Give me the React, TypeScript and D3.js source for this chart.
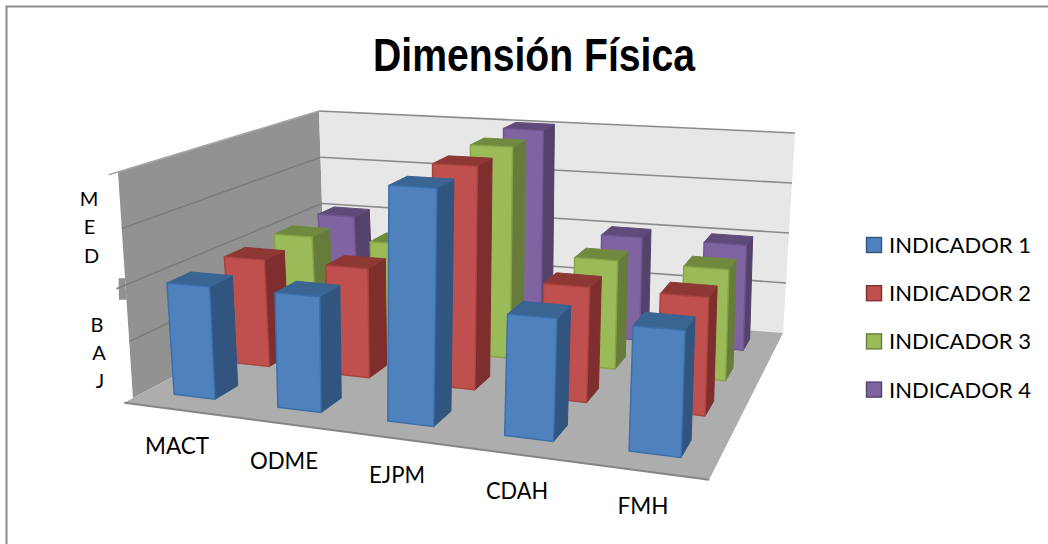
import React from "react";
import * as d3 from "d3";

const categories = ["MACT", "ODME", "EJPM", "CDAH", "FMH"];
const seriesNames = ["INDICADOR 1", "INDICADOR 2", "INDICADOR 3", "INDICADOR 4"];
const indicador1 = [2, 2, 4, 2, 2];
const indicador2 = [2, 2, 4, 2, 2];
const indicador3 = [2, 2, 4, 2, 2];
const indicador4 = [2, 2, 4, 2, 2];
const seriesValues = [indicador1, indicador2, indicador3, indicador4];
const valueLevels = [0, 1, 2, 3, 4];

const faceColors = [
  { front: "#4f81bd", side: "#31557f", top: "#3a6491", line: "#3b70ab" },
  { front: "#c0504d", side: "#7e2f2d", top: "#8e3836", line: "#a84441" },
  { front: "#9bbb59", side: "#677c3a", top: "#71893f", line: "#86a548" },
  { front: "#8064a2", side: "#54426b", top: "#5f4b79", line: "#6f5690" },
];

const WIDTH = 1048;
const HEIGHT = 544;

type Pt = [number, number];

// Homography taking the unit square onto a quad (u along the front edge, v going back).
function quadMap(p00: Pt, p10: Pt, p11: Pt, p01: Pt) {
  const dx1 = p10[0] - p11[0];
  const dx2 = p01[0] - p11[0];
  const sx = p00[0] - p10[0] + p11[0] - p01[0];
  const dy1 = p10[1] - p11[1];
  const dy2 = p01[1] - p11[1];
  const sy = p00[1] - p10[1] + p11[1] - p01[1];
  const det = dx1 * dy2 - dx2 * dy1;
  const g = (sx * dy2 - dx2 * sy) / det;
  const h = (dx1 * sy - sx * dy1) / det;
  const a = p10[0] - p00[0] + g * p10[0];
  const b = p01[0] - p00[0] + h * p01[0];
  const d = p10[1] - p00[1] + g * p10[1];
  const e = p01[1] - p00[1] + h * p01[1];
  return (u: number, v: number): Pt => {
    const w = g * u + h * v + 1;
    return [(a * u + b * v + p00[0]) / w, (d * u + e * v + p00[1]) / w];
  };
}

const valueScale = d3.scaleLinear().domain([0, 4]).range([0, 1]);

// Chart space to the screen: a point on the floor lifted toward the ceiling plane.
function projector(floor: (u: number, v: number) => Pt, ceiling: (u: number, v: number) => Pt) {
  return (u: number, v: number, value: number): Pt => {
    const a = floor(u, v);
    const b = ceiling(u, v);
    const t = valueScale(value);
    return [a[0] + (b[0] - a[0]) * t, a[1] + (b[1] - a[1]) * t];
  };
}

// The room shell and the bar volume use slightly different frames.
const room = projector(
  quadMap([133, 398], [712.5, 473], [783, 333], [325, 296]),
  quadMap([118, 172], [724, 222], [795, 133], [319, 111])
);
const volume = projector(
  quadMap([125, 401], [714, 476.5], [785, 334], [326, 292]),
  quadMap([107, 176], [722, 214], [791, 131], [314, 108])
);

const categoryBand = d3
  .scaleBand<string>()
  .domain(categories)
  .range([0, 1])
  .paddingInner(0.6)
  .paddingOuter(0.3);
const seriesBand = d3
  .scaleBand<string>()
  .domain(seriesNames)
  .range([0, 1])
  .paddingInner(0.6)
  .paddingOuter(0.3);

const poly = (pts: Pt[]) => d3.line()(pts)! + "Z";

function Bar({ cat, ser, value, c }: { cat: string; ser: string; value: number; c: (typeof faceColors)[number] }) {
  const u0 = categoryBand(cat)!;
  const u1 = u0 + categoryBand.bandwidth();
  const v0 = seriesBand(ser)!;
  const v1 = v0 + seriesBand.bandwidth();
  const front = [volume(u0, v0, 0), volume(u1, v0, 0), volume(u1, v0, value), volume(u0, v0, value)];
  const side = [volume(u1, v0, 0), volume(u1, v1, 0), volume(u1, v1, value), volume(u1, v0, value)];
  const top = [volume(u0, v0, value), volume(u1, v0, value), volume(u1, v1, value), volume(u0, v1, value)];
  return (
    <g strokeLinejoin="round">
      <path d={poly(side)} fill={c.side} stroke={c.side} strokeWidth={1} />
      <path d={poly(top)} fill={c.top} stroke={c.top} strokeWidth={1} />
      <path d={poly(front)} fill={c.front} stroke={c.line} strokeWidth={1.5} />
    </g>
  );
}

const labelFont = "Lato, 'Open Sans', sans-serif";
const categoryLabels = [
  { x: 177, y: 454, w: 64 },
  { x: 284, y: 469, w: 68 },
  { x: 397, y: 483, w: 56 },
  { x: 517, y: 499, w: 62 },
  { x: 643, y: 514, w: 51 },
];
const axisLetters = [
  { t: "M", x: 89, y: 206 },
  { t: "E", x: 89.5, y: 234 },
  { t: "D", x: 91.5, y: 263 },
  { t: "B", x: 97, y: 332 },
  { t: "A", x: 99, y: 360 },
  { t: "J", x: 100, y: 388 },
];

export default function App() {
  const lip = -0.035;
  const leftWall: Pt[] = [room(0, 1, 0), room(0, 1, 4), room(0, 0, 4), room(0, 0, 0)];
  const backWall: Pt[] = [room(0, 1, 0), room(1, 1, 0), room(1, 1, 4), room(0, 1, 4)];
  const floorPoly: Pt[] = [room(0, lip, 0), room(1, lip, 0), room(1, 1, 0), room(0, 1, 0)];

  // Small piece of the wall's slab that stays visible beside the axis letters.
  const slab = (value: number, extra: number): Pt => {
    const p = room(0, 0, value);
    return [p[0] - extra, p[1]];
  };
  const notch: Pt[] = [slab(2.12, 0), slab(2.12, 6.5), slab(1.74, 7.5), slab(1.74, 0)];

  const rowsBackToFront = d3.range(seriesNames.length).reverse();

  return (
    <svg
      width={WIDTH}
      height={HEIGHT}
      viewBox={`0 0 ${WIDTH} ${HEIGHT}`}
      style={{ position: "absolute", left: 0, top: 0, background: "#fff" }}
    >
      {/* outer frame, open at the right and bottom */}
      <path d={`M6.5 ${HEIGHT}V6.5H${WIDTH}`} fill="none" stroke="#8c8c8c" strokeWidth={2} />

      <text
        x={534}
        y={71}
        textAnchor="middle"
        fontFamily="'Liberation Sans Narrow', 'Liberation Sans', sans-serif"
        fontWeight={700}
        fontSize={47}
        textLength={322}
        lengthAdjust="spacingAndGlyphs"
        fill="#000"
      >
        Dimensión Física
      </text>

      {/* walls and floor */}
      <path d={poly(leftWall)} fill="#929292" />
      <path d={poly(notch)} fill="#929292" />
      <path d={poly(backWall)} fill="#e7e7e7" />
      <path d={poly(floorPoly)} fill="#adadad" />

      {valueLevels.slice(1).map((lv) => (
        <path
          key={lv}
          d={d3.line()([room(0, 1, lv), room(1, 1, lv)])!}
          stroke="#8a8a8a"
          strokeWidth={1.6}
          fill="none"
        />
      ))}
      {valueLevels.slice(1).map((lv) => (
        <path
          key={lv}
          d={d3.line()([room(0, 1, lv), room(0, lv === 4 || lv === 2 ? lip : 0, lv)])!}
          stroke={lv === 4 ? "#a8a8a8" : "#7d7d7d"}
          strokeWidth={1.6}
          fill="none"
        />
      ))}
      <path
        d={d3.line()([room(0, lip, 0), room(1, lip, 0)])!}
        stroke="#858585"
        strokeWidth={2}
        fill="none"
      />

      {/* bars, painted from the back row forward and left to right */}
      {rowsBackToFront.map((s) =>
        categories.map((cat, i) => (
          <Bar key={`${s}-${cat}`} cat={cat} ser={seriesNames[s]} value={seriesValues[s][i]} c={faceColors[s]} />
        ))
      )}

      {categories.map((cat, i) => (
        <text
          key={cat}
          x={categoryLabels[i].x}
          y={categoryLabels[i].y}
          textAnchor="middle"
          fontFamily={labelFont}
          fontSize={23}
          textLength={categoryLabels[i].w}
          lengthAdjust="spacingAndGlyphs"
          fill="#000"
        >
          {cat}
        </text>
      ))}

      {axisLetters.map((l) => (
        <text key={l.t} x={l.x} y={l.y} textAnchor="middle" fontFamily={labelFont} fontSize={20} fill="#000">
          {l.t}
        </text>
      ))}

      {seriesNames.map((name, i) => {
        const top = 237 + i * 48.2;
        return (
          <g key={name}>
            <rect x={866.5} y={top + 0.5} width={15} height={15} fill={faceColors[i].front} stroke={faceColors[i].side} strokeWidth={1.4} />
            <text
              x={889}
              y={top + 16}
              fontFamily={labelFont}
              fontSize={21.5}
              textLength={142}
              lengthAdjust="spacingAndGlyphs"
              fill="#000"
            >
              {name}
            </text>
          </g>
        );
      })}
    </svg>
  );
}
